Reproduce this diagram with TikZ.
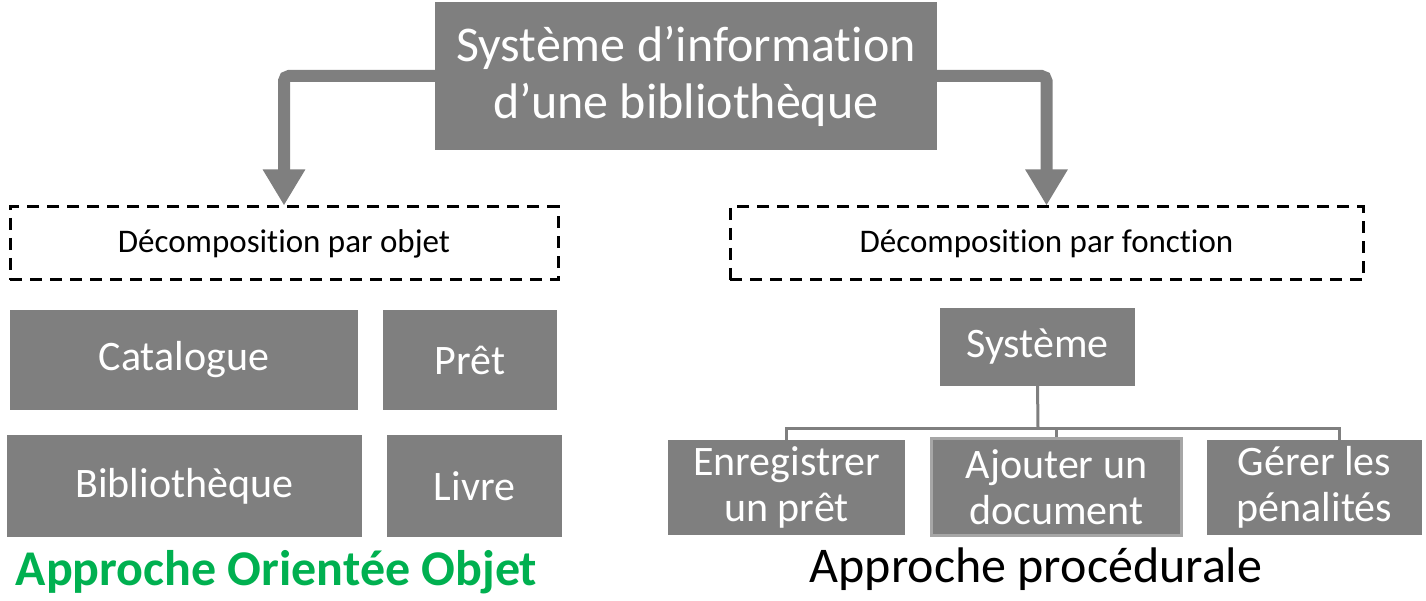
\documentclass[tikz,border=0pt]{standalone}
\usepackage{fontspec}
\setmainfont[Ligatures=NoCommon]{Carlito}
\usetikzlibrary{arrows.meta}
\definecolor{boxgray}{RGB}{127,127,127}
\definecolor{rimgray}{RGB}{166,166,166}
\definecolor{objgreen}{RGB}{0,176,80}
\newcommand{\fs}[2]{\fontsize{#1}{#2}\selectfont}

\begin{document}
\begin{tikzpicture}[x=1pt,y=-1pt,
  gbox/.style={fill=boxgray,text=white,inner sep=0pt,align=center,font=\fs{42}{46}},
  dbox/.style={draw=black,line width=3pt,dash pattern=on 12pt off 8pt,inner sep=0pt,font=\fs{33}{38}},
  bigarr/.style={draw=boxgray,line width=12pt,rounded corners=5pt,-{Triangle[length=36pt,width=40pt]}},
  link/.style={draw=boxgray,line width=3pt}]
   \useasboundingbox (0,0) rectangle (1426,601);
   % titre et les deux approches
   \node[gbox,minimum width=502,minimum height=148,font=\fs{50}{57}] (sys) at (686,76)
    {Système d’information\\d’une bibliothèque};
   \node[dbox,minimum width=548,minimum height=73] (obj) at (284,243.5) {Décomposition par objet};
   \node[dbox,minimum width=633,minimum height=73] (fn) at (1046.5,243.5) {Décomposition par fonction};
   \draw[bigarr] (sys.west) -| (obj.north);
   \draw[bigarr] (sys.east) -| (fn.north);
   % objets
   \node[gbox,minimum width=348,minimum height=100] (cat) at (184,360) {Catalogue};
   \node[gbox,minimum width=174,minimum height=100] (pret) at (470,360) {Prêt};
   \node[gbox,minimum width=355,minimum height=102] (bib) at (184.5,486) {Bibliothèque};
   \node[gbox,minimum width=175,minimum height=102] (livre) at (474.5,486) {Livre};
   % fonctions
   \node[gbox,minimum width=195,minimum height=78] (syst) at (1037.5,347) {Système};
   \node[gbox,minimum width=237,minimum height=95] (enr) at (786.5,487.5) {Enregistrer\\un prêt};
   \node[gbox,draw=rimgray,line width=3pt,minimum width=250,minimum height=97] (ajo) at (1056.5,487) {Ajouter un\\document};
   \node[gbox,minimum width=215,minimum height=95] (ger) at (1314.5,487.5) {Gérer les\\pénalités};
   \coordinate (bus) at (1038,428);
   \coordinate (gtop) at ([xshift=25pt]ger.north);
   \draw[link] ([yshift=3pt]syst.south) -- (bus);
   \draw[link] (enr.north) -- (enr.north |- bus) -| (gtop);
   \draw[link] (ajo.north) -- (ajo.north |- bus);
   % legendes
   \node[text=objgreen,font=\fs{50}{56}\bfseries] (aoo) at (276.5,572) {Approche Orientée Objet};
   \node[font=\fs{50}{56}] (apro) at (1036,569) {Approche procédurale};
\end{tikzpicture}
\end{document}
